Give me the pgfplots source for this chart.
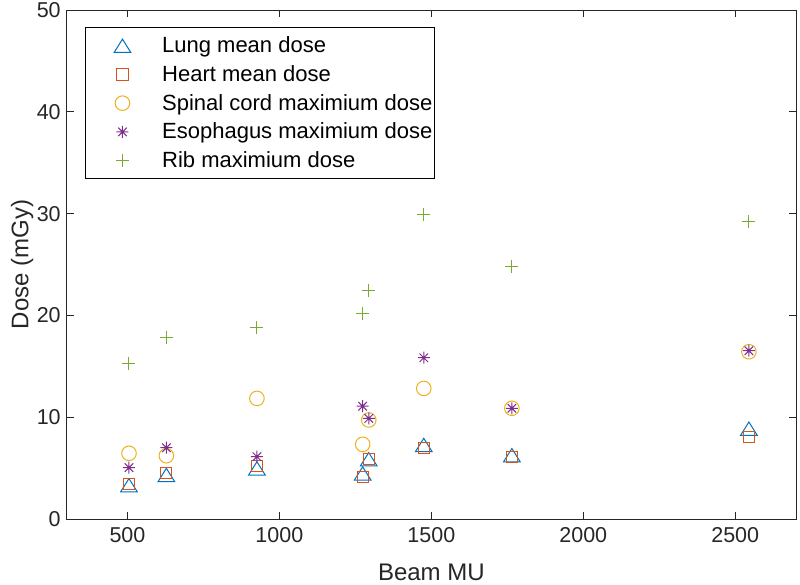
\documentclass[border=0pt]{standalone}
\usepackage{pgfplots}
\pgfplotsset{compat=1.18}
\usepackage{fontspec}
\setmainfont{Liberation Sans}

\definecolor{mblue}{rgb}{0,0.447,0.741}
\definecolor{morange}{rgb}{0.85,0.325,0.098}
\definecolor{myellow}{rgb}{0.929,0.694,0.125}
\definecolor{mpurple}{rgb}{0.494,0.184,0.556}
\definecolor{mgreen}{rgb}{0.466,0.674,0.188}
\definecolor{maxis}{rgb}{0.15,0.15,0.15}

% MATLAB-like markers
\pgfdeclareplotmark{mtri}{%
  \pgfpathmoveto{\pgfqpoint{0pt}{0.8\pgfplotmarksize}}%
  \pgfpathlineto{\pgfqpoint{-\pgfplotmarksize}{-0.8\pgfplotmarksize}}%
  \pgfpathlineto{\pgfqpoint{\pgfplotmarksize}{-0.8\pgfplotmarksize}}%
  \pgfpathclose\pgfusepathqstroke}
\pgfdeclareplotmark{star8}{%
  \pgfpathmoveto{\pgfqpoint{0pt}{\pgfplotmarksize}}\pgfpathlineto{\pgfqpoint{0pt}{-\pgfplotmarksize}}%
  \pgfpathmoveto{\pgfqpoint{\pgfplotmarksize}{0pt}}\pgfpathlineto{\pgfqpoint{-\pgfplotmarksize}{0pt}}%
  \pgfpathmoveto{\pgfqpoint{0.707\pgfplotmarksize}{0.707\pgfplotmarksize}}\pgfpathlineto{\pgfqpoint{-0.707\pgfplotmarksize}{-0.707\pgfplotmarksize}}%
  \pgfpathmoveto{\pgfqpoint{-0.707\pgfplotmarksize}{0.707\pgfplotmarksize}}\pgfpathlineto{\pgfqpoint{0.707\pgfplotmarksize}{-0.707\pgfplotmarksize}}%
  \pgfusepathqstroke}

\pgfplotstableread{
mu    lung  heart spinal esoph rib
505   3.35  3.46  6.48   5.07  15.3
628   4.35  4.57  6.24   7.03  17.8
926   5.0   5.23  11.87  6.15  18.8
1274  4.5   4.18  7.36   11.1  20.2
1294  5.9   5.89  9.75   9.9   22.5
1475  7.3   6.97  12.85  15.86 29.97
1765  6.3   6.15  10.9   10.9  24.8
2545  8.9   8.1   16.45  16.55 29.2
}\dose

\begin{document}
\begin{tikzpicture}
\begin{axis}[
    scale only axis,
    width=729.3pt,
    height=509.3pt,
    xmin=300, xmax=2700,
    ymin=0, ymax=50,
    xtick={500,1000,...,2500},
    ytick={0,10,...,50},
    axis line style={maxis, line width=0.9pt},
    tick style={maxis, line width=0.9pt},
    major tick length=7pt,
    tick align=inside,
    /pgf/number format/assume math mode=true,
    /pgf/number format/1000 sep={},
    tick label style={font=\fontsize{21.5}{21.5}\selectfont, text=maxis},
    x tick label style={yshift=-4.5pt},
    y tick label style={xshift=-2.5pt},
    xlabel={Beam MU},
    ylabel={Dose (mGy)},
    label style={font=\fontsize{24}{24}\selectfont, text=maxis},
    xlabel style={at={(axis description cs:0.5,-0.1035)}, anchor=center},
    ylabel style={at={(axis description cs:-0.061,0.5)}, anchor=center},
    legend cell align=left,
    legend image code/.code={%
        \path[draw=none, fill=none] (0pt,0pt) (75pt,0pt);
        \draw[#1] plot[only marks] coordinates {(37.3pt,0pt)};},
    legend style={at={(axis description cs:0.0247,0.966)}, anchor=north west,
        draw=black, line width=0.9pt, font=\fontsize{22}{22}\selectfont,
        row sep=4.7pt, inner xsep=0pt, inner ysep=6pt,
        nodes={inner sep=2pt, text height=17pt, text depth=3pt}},
]
\addplot[only marks, mark=mtri, mark size=8.3pt, mblue, line width=1pt] table[x=mu, y=lung] {\dose};
\addlegendentry{Lung mean dose}
\addplot[only marks, mark=square, mark size=5.6pt, morange, line width=1pt] table[x=mu, y=heart] {\dose};
\addlegendentry{Heart mean dose}
\addplot[only marks, mark=o, mark size=7.3pt, myellow, line width=1pt] table[x=mu, y=spinal] {\dose};
\addlegendentry{Spinal cord maximium dose\hspace{6pt}}
\addplot[only marks, mark=star8, mark size=6pt, mpurple, line width=1pt] table[x=mu, y=esoph] {\dose};
\addlegendentry{Esophagus maximium dose}
\addplot[only marks, mark=+, mark size=6.5pt, mgreen, line width=1pt] table[x=mu, y=rib] {\dose};
\addlegendentry{Rib maximium dose}
\end{axis}
\pgfresetboundingbox
\path (-66.7pt,-65.7pt) rectangle (733.3pt,519.3pt);
\end{tikzpicture}
\end{document}
